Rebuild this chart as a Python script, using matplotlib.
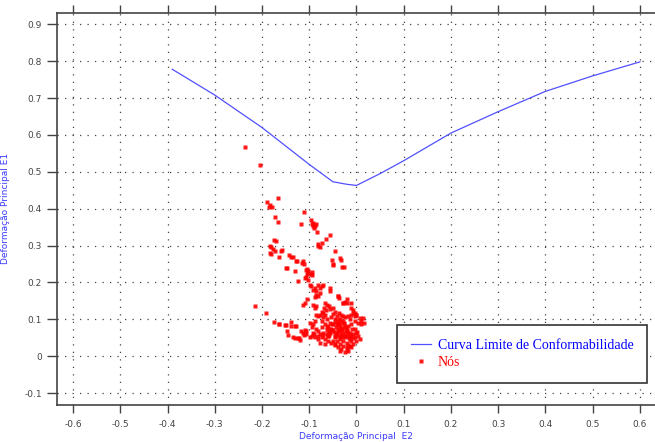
import matplotlib
matplotlib.use('Agg')
import matplotlib.pyplot as plt
import numpy as np

plt.rcParams['axes.unicode_minus'] = False

# curva limite de conformabilidade (E2, E1)
curva_e2 = [-0.39, -0.3, -0.2, -0.14, -0.1, -0.05, -0.02, 0.0, 0.05, 0.1, 0.2, 0.3, 0.4, 0.5, 0.6]
curva_e1 = [0.778, 0.708, 0.62, 0.56, 0.52, 0.473, 0.466, 0.463, 0.495, 0.53, 0.605, 0.663, 0.718, 0.76, 0.798]

# nos da malha (E2, E1)
nos_e2 = [
    -0.235, -0.205, -0.190, -0.166, -0.184, -0.185, -0.179, -0.172, -0.166, -0.112,
    -0.118, -0.097, -0.091, -0.088, -0.093, -0.086, -0.095, -0.089, -0.084, -0.057,
    -0.065, -0.074, -0.081, -0.078, -0.082, -0.175, -0.171, -0.182, -0.180, -0.176,
    -0.173, -0.183, -0.180, -0.157, -0.160, -0.163, -0.142, -0.139, -0.134, -0.128,
    -0.126, -0.113, -0.116, -0.111, -0.147, -0.150, -0.131, -0.104, -0.106, -0.103,
    -0.095, -0.104, -0.045, -0.052, -0.050, -0.049, -0.034, -0.033, -0.031, -0.026,
    -0.103, -0.097, -0.095, -0.106, -0.109, -0.103, -0.124, -0.099, -0.096, -0.082,
    -0.074, -0.078, -0.071, -0.088, -0.085, -0.092, -0.055, -0.085, -0.082, -0.088,
    -0.078, -0.039, -0.036, -0.104, -0.110, -0.113, -0.025, -0.021, -0.028, -0.011,
    -0.092, -0.085, -0.088, -0.066, -0.063, -0.059, -0.068, -0.055, -0.065, -0.049,
    -0.045, -0.074, -0.071, -0.078, -0.067, -0.085, -0.082, -0.036, -0.032, -0.028,
    -0.007, -0.004, 0.000, -0.011, 0.007, 0.014, 0.010, 0.017, 0.009, -0.215,
    -0.191, -0.175, -0.163, -0.152, -0.139, -0.138, -0.131, -0.148, -0.145, -0.134,
    -0.124, -0.120, -0.131, -0.117, -0.113, -0.110, -0.106, -0.111, -0.099, -0.092,
    -0.088, -0.095, -0.085, -0.092, -0.081, -0.074, -0.078, -0.071, -0.099, -0.088,
    -0.081, -0.074, -0.067, -0.060, -0.063, -0.056, -0.053, -0.060, -0.067, -0.056,
    -0.049, -0.046, -0.042, -0.049, -0.053, -0.063, -0.071, -0.074, -0.039, -0.035,
    -0.032, -0.039, -0.042, -0.046, -0.049, -0.042, -0.035, -0.032, -0.028, -0.025,
    -0.021, -0.018, -0.025, -0.028, -0.021, -0.014, -0.011, -0.004, -0.007, -0.014,
    -0.018, -0.011, -0.004, 0.000, 0.004, 0.007, 0.000, -0.007, -0.014, -0.021,
    -0.028, -0.035, -0.039, -0.032, -0.018, -0.011, -0.046, -0.053, -0.060, -0.078,
    -0.067, -0.028, -0.025, -0.018, -0.014, -0.004, 0.004, -0.035, -0.042, -0.095,
    -0.081, -0.060, -0.046, -0.035, -0.025, -0.014, -0.035, -0.025, -0.021, -0.029,
    -0.021, -0.011, -0.007, -0.004, 0.000, -0.039, -0.057, -0.164, -0.150, -0.127,
    -0.122, -0.106, -0.090, -0.070, -0.058, -0.044, -0.030, -0.016, -0.008, -0.052,
    -0.040, -0.027, -0.062, -0.045, -0.018, -0.034, -0.048, -0.022, -0.010, 0.002,
    -0.058, -0.050, -0.043, -0.037, -0.031, -0.024, -0.017, -0.044, -0.038, -0.030,
    -0.023, -0.052, -0.046, -0.040, -0.033, -0.026, -0.019, -0.012, -0.062, -0.055,
]
nos_e1 = [
    0.567, 0.518, 0.418, 0.430, 0.410, 0.405, 0.404, 0.377, 0.363, 0.391,
    0.359, 0.370, 0.362, 0.354, 0.352, 0.358, 0.358, 0.348, 0.336, 0.329,
    0.318, 0.308, 0.304, 0.297, 0.299, 0.315, 0.311, 0.300, 0.296, 0.291,
    0.284, 0.279, 0.277, 0.287, 0.284, 0.270, 0.275, 0.270, 0.268, 0.259,
    0.258, 0.258, 0.254, 0.250, 0.240, 0.239, 0.230, 0.237, 0.234, 0.225,
    0.228, 0.223, 0.285, 0.262, 0.250, 0.247, 0.265, 0.261, 0.243, 0.241,
    0.230, 0.223, 0.219, 0.216, 0.212, 0.207, 0.203, 0.194, 0.189, 0.194,
    0.191, 0.185, 0.192, 0.185, 0.178, 0.180, 0.176, 0.167, 0.162, 0.160,
    0.170, 0.162, 0.158, 0.155, 0.144, 0.139, 0.148, 0.144, 0.144, 0.144,
    0.139, 0.137, 0.130, 0.144, 0.139, 0.135, 0.130, 0.128, 0.124, 0.130,
    0.121, 0.121, 0.117, 0.112, 0.112, 0.112, 0.108, 0.117, 0.112, 0.108,
    0.126, 0.117, 0.112, 0.112, 0.104, 0.104, 0.095, 0.090, 0.086, 0.135,
    0.117, 0.094, 0.088, 0.085, 0.094, 0.081, 0.081, 0.067, 0.058, 0.053,
    0.049, 0.045, 0.049, 0.067, 0.062, 0.071, 0.067, 0.058, 0.091, 0.087,
    0.096, 0.078, 0.073, 0.064, 0.069, 0.078, 0.060, 0.064, 0.051, 0.051,
    0.046, 0.051, 0.046, 0.055, 0.060, 0.064, 0.073, 0.082, 0.087, 0.091,
    0.087, 0.100, 0.109, 0.114, 0.105, 0.100, 0.105, 0.096, 0.091, 0.082,
    0.073, 0.069, 0.060, 0.051, 0.042, 0.042, 0.051, 0.060, 0.064, 0.078,
    0.069, 0.055, 0.051, 0.042, 0.037, 0.046, 0.042, 0.051, 0.060, 0.064,
    0.082, 0.087, 0.073, 0.064, 0.055, 0.046, 0.042, 0.033, 0.028, 0.024,
    0.028, 0.033, 0.024, 0.019, 0.014, 0.024, 0.033, 0.037, 0.042, 0.037,
    0.033, 0.096, 0.105, 0.109, 0.100, 0.096, 0.091, 0.100, 0.087, 0.055,
    0.055, 0.055, 0.055, 0.055, 0.055, 0.055, 0.014, 0.010, 0.019, 0.145,
    0.154, 0.132, 0.118, 0.109, 0.113, 0.163, 0.186, 0.086, 0.085, 0.082,
    0.050, 0.059, 0.060, 0.058, 0.057, 0.054, 0.052, 0.050, 0.048, 0.070,
    0.075, 0.090, 0.080, 0.030, 0.030, 0.047, 0.065, 0.068, 0.075, 0.066,
    0.066, 0.071, 0.062, 0.067, 0.071, 0.058, 0.062, 0.080, 0.084, 0.076,
    0.080, 0.088, 0.094, 0.098, 0.092, 0.086, 0.071, 0.054, 0.070, 0.075,
]

fig = plt.figure(figsize=(6.55, 4.42), dpi=100)
ax = fig.add_axes([0.087, 0.084, 0.913, 0.887])

ax.plot(curva_e2, curva_e1, color='#5050ff', lw=0.9, label='Curva Limite de Conformabilidade')
ax.plot(nos_e2, nos_e1, 's', color='red', ms=2.8, mec='none', alpha=0.9, label='Nós')

ax.set_xlim(-0.634, 0.632)
ax.set_ylim(-0.132, 0.931)
ax.set_xticks(np.arange(-0.6, 0.61, 0.1))
ax.set_yticks(np.arange(-0.1, 0.91, 0.1))
ax.set_xticklabels(['-0.6', '-0.5', '-0.4', '-0.3', '-0.2', '-0.1', '0', '0.1', '0.2', '0.3', '0.4', '0.5', '0.6'])
ax.set_yticklabels(['-0.1', '0', '0.1', '0.2', '0.3', '0.4', '0.5', '0.6', '0.7', '0.8', '0.9'])

ax.tick_params(axis='x', top=True, bottom=True, direction='out', length=6, width=1,
               colors='#444444', labelsize=6.5, pad=5)
ax.tick_params(axis='y', left=True, right=False, direction='out', length=7, width=1,
               colors='#444444', labelsize=6.5, pad=4)
for s in ['left', 'bottom', 'top']:
    ax.spines[s].set_color('#444444')
    ax.spines[s].set_linewidth(1.2)
ax.spines['right'].set_visible(False)

ax.grid(True, color='#444444', linestyle=(0, (1, 5)), linewidth=0.9)

ax.set_xlabel('Deformação Principal  E2', color='#3a3aff', fontsize=6.5, labelpad=2)
ax.set_ylabel('Deformação Principal E1', color='#3a3aff', fontsize=6.5, labelpad=10)

leg = ax.legend(loc='lower right', bbox_to_anchor=(0.987, 0.056), borderaxespad=0,
                fancybox=False, edgecolor='#333333', framealpha=1,
                prop={'family': 'Liberation Serif', 'size': 10},
                handlelength=1.4, handletextpad=0.5, borderpad=1.0, labelspacing=0.3)
leg.get_frame().set_linewidth(1.2)
leg.get_texts()[0].set_color('blue')
leg.get_texts()[1].set_color('red')

fig.savefig('out.png', dpi=100)
